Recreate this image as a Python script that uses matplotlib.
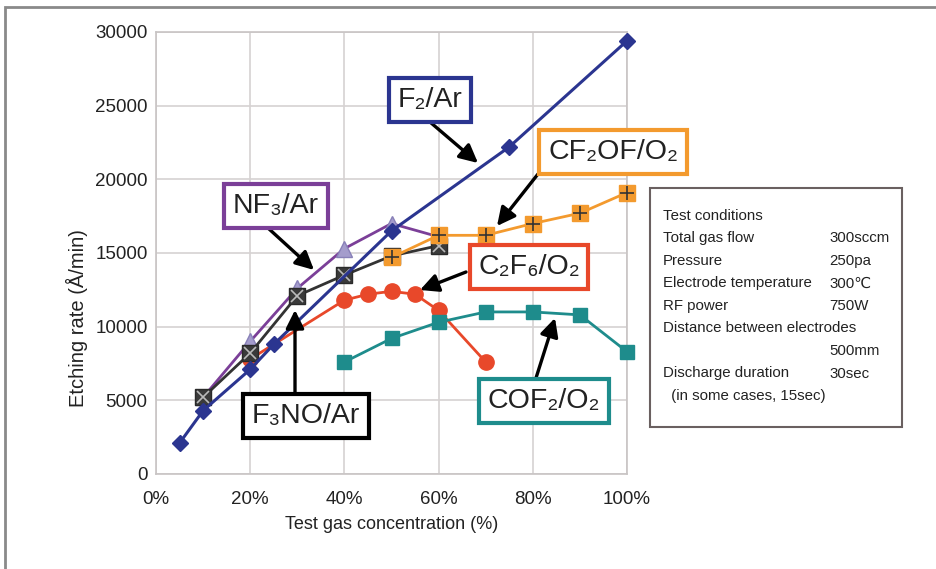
import numpy as np
import matplotlib.pyplot as plt
from matplotlib.patches import Rectangle

plt.rcParams["font.family"] = ["Liberation Sans", "DejaVu Sans"]

# Data (x in %, y in Å/min)
f2_x = [5, 10, 20, 25, 50, 75, 100]
f2_y = [2100, 4300, 7100, 8800, 16500, 22200, 29400]

nf3_x = [10, 20, 30, 40, 50, 60]
nf3_y = [5200, 9000, 12600, 15300, 17000, 16100]

f3no_x = [10, 20, 30, 40, 50, 60]
f3no_y = [5200, 8200, 12100, 13500, 14800, 15500]

c2f6_x = [20, 40, 45, 50, 55, 60, 70]
c2f6_y = [7800, 11800, 12200, 12400, 12200, 11100, 7600]

cof2_x = [40, 50, 60, 70, 80, 90, 100]
cof2_y = [7600, 9200, 10300, 11000, 11000, 10800, 8300]

cf2of_x = [50, 60, 70, 80, 90, 100]
cf2of_y = [14700, 16200, 16200, 17000, 17700, 19100]

conditions = [
    ("Test conditions", ""),
    ("Total gas flow", "300sccm"),
    ("Pressure", "250pa"),
    ("Electrode temperature", "300\u2103"),
    ("RF power", "750W"),
    ("Distance between electrodes", ""),
    ("", "500mm"),
    ("Discharge duration", "30sec"),
    ("  (in some cases, 15sec)", ""),
]

NAVY = "#2b3590"
PURPLE = "#7b3f98"
PURPLE_M = "#a49ccc"
GRAY = "#333333"
RED = "#e8482a"
TEAL = "#1e8c8c"
ORANGE = "#f39a2e"

W, H = 936, 569
fig = plt.figure(figsize=(W / 100, H / 100), dpi=100)
ax = fig.add_axes([156 / W, 1 - 474 / H, (627 - 156) / W, (474 - 32) / H])

# outer frame (left and top edges visible)
fig.patches.append(Rectangle((5 / W, -0.1), 1.2, 1 - 7 / H + 0.1,
                             transform=fig.transFigure, fill=False,
                             edgecolor="#8a8a8a", linewidth=2))

kw = dict(clip_on=False)
ax.plot(c2f6_x, c2f6_y, color=RED, marker="o", markersize=11, linewidth=2, zorder=3, **kw)
ax.plot(cof2_x, cof2_y, color=TEAL, marker="s", markersize=10, linewidth=2, zorder=3, **kw)
ax.plot(nf3_x, nf3_y, color=PURPLE, marker="^", markersize=12,
        markerfacecolor=PURPLE_M, markeredgecolor="#8880b8", linewidth=2, zorder=4, **kw)
ax.plot(f3no_x, f3no_y, color=GRAY, marker="s", markersize=11,
        markerfacecolor="#3a3a3a", markeredgecolor="#2a2a2a", linewidth=2, zorder=4, **kw)
ax.plot(f3no_x, f3no_y, linestyle="none", marker="x", markersize=9,
        markeredgecolor="#bbbbbb", markeredgewidth=1.2, zorder=5, **kw)
ax.plot(f2_x, f2_y, color=NAVY, marker="D", markersize=8, linewidth=2.2, zorder=5, **kw)
ax.plot(cf2of_x, cf2of_y, color=ORANGE, marker="s", markersize=11, linewidth=2, zorder=6, **kw)
ax.plot(cf2of_x, cf2of_y, linestyle="none", marker="+", markersize=10,
        markeredgecolor="#333333", markeredgewidth=1.2, zorder=7, **kw)

ax.set_xlim(0, 100)
ax.set_ylim(0, 30000)
ax.set_xticks(np.arange(0, 101, 20))
ax.set_xticklabels([f"{v}%" for v in range(0, 101, 20)])
ax.set_yticks(np.arange(0, 30001, 5000))
ax.tick_params(length=0, labelsize=13.5, colors="#222222")
ax.tick_params(axis="x", pad=12)
ax.tick_params(axis="y", pad=6)
ax.grid(True, color="#d6d2d2", linewidth=1.2)
ax.set_axisbelow(True)
for s in ax.spines.values():
    s.set_color("#c8c4c4")
    s.set_linewidth(1.2)
ax.set_xlabel("Test gas concentration (%)", fontsize=13, color="#222222", labelpad=6)
ax.set_ylabel("Etching rate (Å/min)", fontsize=14.5, color="#222222")
ax.yaxis.set_label_coords(-0.145, 0.353)


def px(x, y):
    # pixel position -> data coordinates
    return ((x - 156) / 4.71, (474 - y) / (442 / 30000))


def label_box(text, cx, cy, color, arrow_from, arrow_to):
    ax.annotate("", xy=px(*arrow_to), xytext=px(*arrow_from),
                arrowprops=dict(arrowstyle="-|>,head_width=0.55,head_length=1.1",
                                color="black", linewidth=2.4, shrinkA=0, shrinkB=0),
                zorder=8, annotation_clip=False)
    ax.text(*px(cx, cy), text, fontsize=20.5, ha="center", va="center", zorder=9,
            color="#222222",
            bbox=dict(boxstyle="square,pad=0.3", facecolor="white",
                      edgecolor=color, linewidth=3))


label_box("F\u2082/Ar", 430, 100, NAVY, (430, 122), (478, 163))
label_box("CF\u2082OF/O\u2082", 613, 152, ORANGE, (538, 174), (497, 226))
label_box("NF\u2083/Ar", 276, 206, PURPLE, (268, 228), (314, 270))
label_box("C\u2082F\u2086/O\u2082", 529, 267, RED, (466, 272), (420, 290))
label_box("F\u2083NO/Ar", 306, 416, "black", (295, 393), (295, 310))
label_box("COF\u2082/O\u2082", 544, 401, TEAL, (536, 378), (555, 318))

# test conditions box
fig.patches.append(Rectangle((650 / W, 1 - 427 / H), 252 / W, 239 / H,
                             transform=fig.transFigure, facecolor="white",
                             edgecolor="#6a6060", linewidth=1.5))
for i, (k, v) in enumerate(conditions):
    y = 1 - (216 + i * 22.5) / H
    fig.text(663 / W, y, k, fontsize=10.8, va="center", color="#222222")
    if v:
        fig.text(829 / W, y, v, fontsize=10.8, va="center", color="#222222")

fig.savefig("out.png", dpi=100)
